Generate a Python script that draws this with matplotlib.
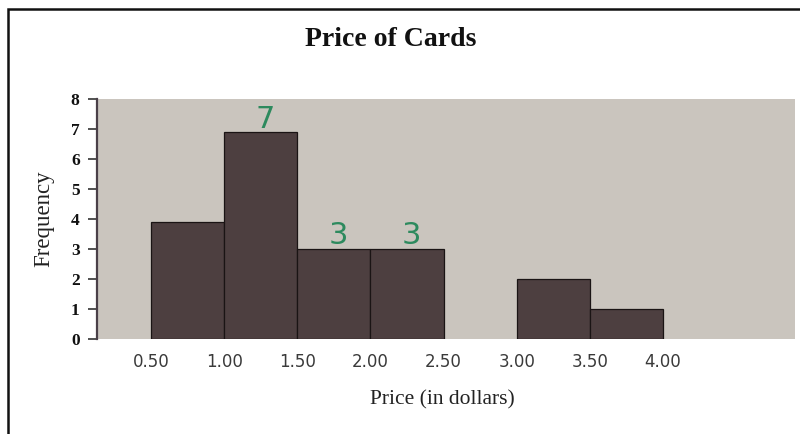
import matplotlib
matplotlib.use("Agg")
import matplotlib.pyplot as plt
from matplotlib.patches import Rectangle

# Data
bin_edges = [0.5, 1.0, 1.5, 2.0, 2.5, 3.0, 3.5, 4.0]
frequencies = [3.9, 6.9, 3, 3, 0, 2, 1]
tick_labels = ["0.50", "1.00", "1.50", "2.00", "2.50", "3.00", "3.50", "4.00"]
handwritten = [(1, "7"), (2, "3"), (3, "3")]  # (bin index, note)
y_ticks = [0, 1, 2, 3, 4, 5, 6, 7, 8]

fig = plt.figure(figsize=(8.0, 4.34), dpi=100)
fig.patch.set_facecolor("white")

# outer frame
fig.add_artist(Rectangle((8 / 800, -0.1), 1.2, (434 - 9) / 434 + 0.1,
                         transform=fig.transFigure, fill=False,
                         edgecolor="#111111", linewidth=1.8))

ax = fig.add_axes([97 / 800, (434 - 339) / 434, (795 - 97) / 800, (339 - 99) / 434])
ax.set_facecolor("#cac5be")

lefts = bin_edges[:-1]
widths = [b - a for a, b in zip(bin_edges[:-1], bin_edges[1:])]
edgecolors = ["#1a1414" if f > 0 else "none" for f in frequencies]
ax.bar(lefts, frequencies, width=widths, align="edge",
       color="#4d3f40", edgecolor=edgecolors, linewidth=0.9)

for idx, note in handwritten:
    cx = (bin_edges[idx] + bin_edges[idx + 1]) / 2
    ax.text(cx + 0.03, frequencies[idx] - 0.05, note, ha="center", va="bottom",
            color="#2d8a5e", fontsize=22, family="DejaVu Sans",
            fontweight="normal")

ax.set_xlim(0.131, 4.902)
ax.set_ylim(0, 8)

ax.set_xticks(bin_edges)
ax.set_xticklabels(tick_labels, family="DejaVu Sans", fontsize=12, color="#3a3a3a")
ax.tick_params(axis="x", length=0, pad=10)

ax.set_yticks(y_ticks)
ax.set_yticklabels([str(v) for v in y_ticks], family="Liberation Serif",
                   fontweight="bold", fontsize=12.5, color="#111111")
ax.tick_params(axis="y", direction="out", length=6.5, width=1.2, color="#333333", pad=6)

for s in ["top", "right", "bottom"]:
    ax.spines[s].set_visible(False)
ax.spines["left"].set_color("#4a4048")
ax.spines["left"].set_linewidth(1.6)

ax.set_xlabel("Price (in dollars)", family="Liberation Serif", fontsize=15.5,
              color="#222222")
ax.xaxis.set_label_coords((442 - 97) / (795 - 97), -(400 - 339) / (339 - 99))
ax.xaxis.label.set_va("center")
ax.set_ylabel("Frequency", family="Liberation Serif", fontsize=16.5,
              color="#222222")
ax.yaxis.set_label_coords(-(97 - 44) / (795 - 97), 0.5)
ax.yaxis.label.set_va("center")

fig.text(391 / 800, 1 - 39 / 434, "Price of Cards", ha="center", va="center",
         family="Liberation Serif", fontweight="bold", fontsize=20, color="#111111")

fig.savefig("out.png", dpi=100)
